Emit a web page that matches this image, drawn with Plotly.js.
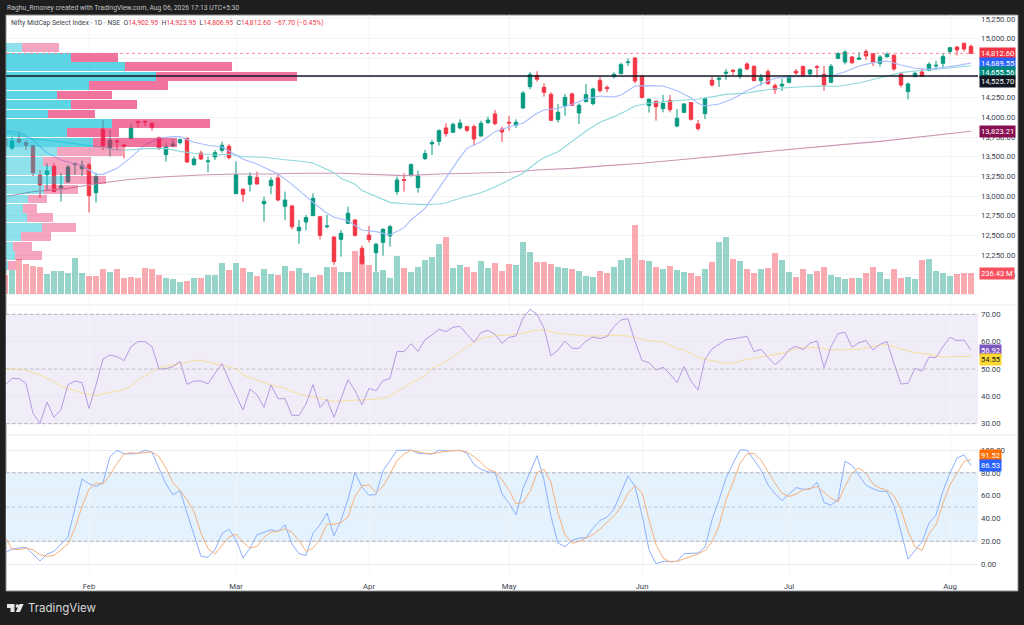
<!DOCTYPE html>
<html>
<head>
<meta charset="utf-8">
<script src="https://cdn.plot.ly/plotly-3.0.1.min.js"></script>
<style>html,body{margin:0;padding:0;background:#1e1e1e;overflow:hidden}</style>
</head>
<body>
<div id="plot" style="width:1024px;height:625px"></div>
<script>
// daily OHLC, first bar is partly cut off by the left edge
var open_p = [13734,13611,13721,13678,13640,13263,13272,13378,13103,13179,13399,13348,13395,13043,13848,13611,13700,13649,13733,13949,
 13949,13924,13742,13526,13640,13678,13733,13399,13547,13437,13496,13581,13632,13030,13086,13149,13234,12903,13132,13230,
 12870,12874,12560,12670,12751,12738,12611,12480,12450,12654,12696,12336,12505,12281,12412,12493,13056,13208,13268,13107,
 13475,13662,13695,13865,13810,13865,13882,13882,13763,13933,14043,13852,13937,13899,14119,14390,14534,14381,14292,13971,
 14144,14297,14055,14199,14174,14470,14381,14521,14555,14695,14754,14517,14149,14204,14110,14216,13890,14064,14187,13916,
 14047,14470,14483,14559,14597,14521,14678,14648,14466,14580,14403,14398,14445,14585,14648,14551,14644,14547,14445,14750,
 14703,14767,14737,14835,14809,14686,14771,14788,14551,14326,14517,14576,14597,14652,14686,14835,14894,14941,14902.95];
var high_p = [13755,13746,13818,13704,13650,13331,13416,13416,13289,13395,13429,13450,13416,13297,13967,13840,13721,13657,13916,13953,
 13958,13933,13755,13670,13721,13733,13742,13501,13577,13501,13585,13691,13662,13441,13098,13301,13310,12992,13238,13289,
 13056,12887,12696,12759,13035,12747,12759,12482,12569,12865,12704,12370,12620,12408,12590,12632,13246,13289,13416,13323,
 13585,13712,13848,13924,13933,13975,13890,13911,13958,14009,14093,13882,14021,13975,14335,14576,14585,14432,14318,14170,
 14297,14314,14178,14424,14377,14517,14407,14572,14695,14750,14763,14542,14242,14212,14284,14284,14106,14178,14195,13966,
 14254,14517,14508,14614,14614,14631,14699,14661,14551,14614,14432,14492,14538,14614,14653,14610,14665,14653,14678,14826,
 14851,14780,14826,14864,14813,14792,14826,14801,14568,14441,14580,14623,14699,14720,14813,14894,14898,14945,14923.95];
var low_p = [13607,13585,13670,13585,13255,12975,13077,13050,12929,13170,13268,13255,12793,12920,13585,13501,13585,13479,13721,13873,
 13890,13831,13585,13437,13619,13657,13424,13386,13458,13302,13458,13551,13467,13026,12925,13056,13149,12675,13022,12933,
 12692,12577,12395,12565,12747,12450,12590,12124,12230,12645,12484,12124,12408,12039,12243,12357,13014,13056,13246,13043,
 13458,13522,13640,13755,13805,13848,13814,13640,13755,13916,13899,13687,13831,13865,14106,14356,14453,14263,13954,13933,
 14021,14144,13916,14191,14153,14314,14318,14492,14547,14652,14432,14237,14060,13958,14064,14064,13873,14051,13958,13831,
 13979,14390,14386,14475,14538,14487,14602,14458,14403,14411,14297,14335,14432,14538,14517,14517,14508,14335,14432,14737,
 14674,14674,14729,14729,14652,14644,14758,14593,14381,14229,14517,14521,14585,14602,14636,14805,14784,14835,14806.95];
var close_p = [13640,13700,13687,13645,13297,13141,13318,13056,13128,13369,13412,13390,13005,13247,13640,13712,13691,13636,13861,13937,
 13941,13873,13615,13623,13662,13717,13433,13471,13471,13446,13551,13645,13488,13272,13022,13251,13153,12933,13200,12950,
 12950,12611,12603,12726,12971,12501,12619,12167,12526,12781,12501,12145,12446,12387,12577,12611,13204,13200,13399,13255,
 13539,13678,13831,13793,13911,13928,13835,13725,13924,13966,13920,13814,13928,13937,14309,14542,14483,14318,13962,14064,
 14254,14153,14153,14288,14360,14339,14364,14547,14669,14703,14462,14254,14229,14136,14178,14098,13988,14170,13975,13856,
 14237,14411,14496,14572,14585,14610,14614,14466,14504,14428,14352,14420,14525,14564,14521,14602,14636,14411,14648,14809,
 14830,14695,14754,14780,14699,14767,14801,14614,14411,14424,14559,14521,14674,14661,14771,14885,14856,14868,14812.60];

// volume in millions, vol_up 1 = green bar, 0 = red bar
var volume_m = [214,274,398,338,319,304,229,266,266,236,413,244,210,210,285,255,281,180,191,188,
 300,281,218,180,173,139,154,184,180,221,221,353,274,349,293,248,206,285,229,218,
 319,263,296,236,195,214,311,304,248,251,488,432,330,251,270,180,428,293,255,311,
 387,424,567,642,293,330,304,248,372,296,349,263,342,330,585,473,364,364,342,311,
 300,285,259,210,195,266,244,308,387,413,781,387,375,308,285,319,278,255,236,210,
 285,360,593,649,398,375,285,236,281,300,465,387,255,191,285,229,263,304,221,199,
 176,188,188,236,304,251,173,285,180,195,173,387,398,266,236,206,225,244,236.43];
var vol_up = [0,1,0,0,0,0,1,1,1,1,1,1,0,0,0,1,0,0,0,0,
 0,0,0,1,1,1,0,1,0,1,1,1,0,1,0,1,0,1,1,0,
 1,0,1,1,1,0,1,0,1,1,0,0,0,1,1,1,1,0,1,1,
 1,1,1,0,1,1,0,0,1,1,0,0,0,1,1,1,0,0,0,1,
 1,0,1,1,1,0,0,1,1,1,0,0,1,0,1,0,1,1,0,0,
 1,0,1,1,0,1,0,0,1,0,0,1,1,0,0,1,0,0,1,1,
 1,0,1,0,0,1,1,0,0,1,1,0,1,1,1,1,0,0,0];

// moving averages, read at selected bars
var ma_fast_x = [-1,1,3,5,7,9,10,11,12,13,15,17,19,21,23,24,26,28,30,31,33,35,37,38,40,41,43,45,46,47,48,50,52,54,56,57,59,60,62,64,65,67,69,71,73,75,76,78,80,82,84,86,87,89,91,93,95,96,97,98,99,101,103,105,107,109,111,113,115,117,119,121,123,125,127,129,131,133,135,137];
var ma_fast = [13827,13810,13712,13551,13458,13407,13386,13331,13276,13276,13352,13492,13649,13733,13755,13755,13683,13645,13623,13573,13467,13407,13318,13280,13149,13069,12920,12781,12730,12709,12683,12569,12548,12505,12599,12696,12844,12971,13238,13492,13606,13691,13818,13877,13924,14051,14093,14115,14165,14233,14271,14259,14284,14398,14403,14398,14339,14292,14250,14178,14144,14170,14237,14339,14424,14496,14513,14525,14525,14521,14580,14652,14695,14716,14665,14623,14610,14631,14657,14689.55];
var ma_mid_x = [-1,1,3,5,8,11,13,15,17,19,22,24,26,29,31,33,36,39,41,43,46,47,49,50,52,54,56,59,61,62,64,67,69,73,75,76,78,80,82,84,86,88,89,91,93,95,96,98,100,102,105,107,110,112,115,118,121,124,127,129,132,137];
var ma_mid = [13814,13776,13729,13708,13678,13645,13619,13585,13585,13602,13606,13568,13543,13522,13530,13501,13492,13462,13446,13420,13297,13225,13149,13069,12992,12920,12903,12891,12899,12916,12971,13043,13115,13289,13429,13488,13564,13700,13827,13937,14009,14093,14144,14178,14199,14212,14221,14229,14259,14292,14309,14339,14373,14381,14398,14394,14436,14504,14568,14589,14610,14655.56];
var ma_slow_x = [-1,3,8,13,17,22,27,32,37,41,47,52,56,61,66,71,75,80,85,90,95,100,105,110,114,119,124,129,133,137];
var ma_slow = [12992,13056,13098,13170,13213,13246,13268,13280,13280,13289,13289,13268,13259,13280,13289,13302,13331,13352,13386,13416,13458,13501,13543,13585,13619,13657,13695,13746,13784,13823.21];

// volume profile rows, top row first
var vp_price = [14883,14763,14643,14523,14403,14283,14163,14043,13923,13803,13683,13563,13443,13323,13203,13083,12963,12843,12723,12603,12483,12363,12243,12123];
var vp_up =   [48,194,358,451,248,154,194,127,318,182,262,152,110,138,174,113,66,51,64,109,45,21,27,5];
var vp_down = [112,142,321,421,237,165,199,141,294,156,252,198,144,105,127,103,56,42,78,102,89,56,82,25];
var vp_in_area = [0,1,1,1,1,1,1,1,1,1,1,0,0,0,0,0,0,0,0,0,0,0,0,0];

// RSI and its moving average
var rsi = [44.15,46.59,46.46,44.76,33.78,30.12,37.93,32.32,35.24,44.27,45.61,45.0,35.61,44.15,53.66,55.12,54.51,53.05,58.17,60.0,
 60.0,58.17,50.0,50.12,50.85,52.8,44.39,45.61,45.61,44.63,48.41,51.95,45.98,40.49,35.0,42.68,40.49,35.98,44.15,39.15,
 39.15,33.05,33.05,37.2,44.27,35.98,38.9,32.32,39.27,46.1,42.07,36.95,42.93,42.07,45.73,46.59,56.46,56.34,59.27,56.46,
 60.73,62.44,64.51,63.66,65.24,65.61,62.68,59.76,63.29,64.15,62.68,59.39,61.59,62.07,68.54,71.83,70.0,64.88,54.76,56.95,
 60.24,57.56,57.56,60.24,61.71,61.1,61.83,65.49,67.93,68.41,60.0,53.05,52.32,49.63,50.61,48.17,45.0,50.85,45.61,42.32,
 53.54,57.32,59.02,60.73,60.98,61.59,61.95,56.34,57.2,54.27,51.59,53.66,57.07,58.29,57.07,59.39,60.24,50.49,58.17,62.93,
 63.41,57.93,59.63,60.37,56.95,59.02,60.0,52.07,44.51,44.76,50.24,49.15,54.39,54.15,58.17,61.59,60.37,60.61,56.92];
var rsi_ma_x = [-1,1,2,4,5,6,7,9,10,11,12,13,15,16,17,18,19,20,21,22,24,25,26,27,28,30,32,33,35,37,38,39,41,43,44,45,46,47,48,50,52,53,54,55,56,57,59,60,62,64,65,67,69,71,73,75,76,78,80,82,84,86,88,89,91,93,95,96,97,98,99,100,101,102,103,105,107,109,111,112,113,115,117,119,121,123,125,127,129,131,133,135,137];
var rsi_ma = [50.24,49.76,49.63,47.8,46.59,45.37,43.78,41.95,41.22,40.73,40.24,40.85,41.83,42.56,43.78,45.98,47.44,49.02,50.24,50.98,51.95,52.44,53.05,53.17,52.56,51.59,50.12,47.8,45.98,44.15,43.54,42.93,40.85,39.88,39.15,38.66,38.05,38.29,38.54,38.66,38.9,39.27,40.12,41.71,43.29,44.88,47.44,50.24,52.68,56.34,58.17,61.22,62.2,62.44,63.05,64.27,64.27,63.05,62.56,62.07,62.07,62.32,62.07,61.59,60.37,59.88,57.44,56.95,55.73,54.27,53.54,53.05,52.44,52.07,52.2,53.54,54.39,55.24,56.34,57.44,57.8,57.8,56.95,57.07,57.2,58.29,59.02,57.32,55.98,55.37,54.27,54.63,54.55];

// stochastic %K and %D
var stoch_k = [9.62,13.12,13.99,14.58,8.75,2.62,8.75,11.08,17.49,23.62,48.98,74.64,70.26,67.93,71.43,94.17,99.71,96.79,96.5,97.08,
 100,97.96,83.97,70.26,60.64,64.43,44.61,25.66,6.71,5.83,12.54,26.53,30.61,21.28,5.25,13.99,25.66,27.7,30.03,28.57,
 34.4,17.49,9.04,7.58,27.11,34.4,44.61,24.78,38.19,56.85,80.17,67.35,60.35,60.93,81.92,90.67,99.71,99.71,100,97.08,
 96.5,96.5,100,99.13,99.42,99.71,97.08,87.17,83.09,80.76,80.47,61.52,53.35,43.15,66.18,80.47,95.04,73.76,41.69,18.37,
 15.16,20.7,22.74,23.03,31.49,38.19,41.11,48.1,62.1,77.26,67.93,43.15,12.54,0.29,2.33,2.33,2.33,9.04,9.62,9.62,
 14.87,38.78,56.27,75.22,88.34,100,100,90.67,82.51,69.39,61.52,55.69,61.22,67.06,65.6,65.6,71.72,53.94,51.6,56.27,
 90.09,86.59,77.55,69.1,65.89,63.85,63.56,51.02,28.57,4.37,11.95,19.24,35.86,42.86,64.14,79.59,93.0,95.63,86.53];
var stoch_d = [23.62,13.12,12.54,13.99,12.54,8.16,6.71,7.58,12.54,17.49,31.49,50.44,65.6,70.85,70.26,78.13,88.34,96.5,97.67,97.08,
 97.96,98.25,94.17,83.97,71.43,64.43,56.27,46.06,27.11,13.41,8.75,16.03,23.62,26.24,19.24,13.99,15.45,23.32,27.99,28.57,
 30.9,27.7,20.7,11.08,13.99,21.87,34.99,34.69,36.44,41.11,59.18,68.51,69.39,62.68,67.93,79.01,90.67,96.5,99.71,98.54,
 97.08,96.79,97.96,98.83,99.42,99.42,98.25,94.17,88.92,83.09,81.05,73.76,65.01,52.77,53.94,63.56,80.17,83.09,71.43,44.61,
 25.66,18.37,19.83,22.45,25.66,30.61,36.44,42.27,49.85,62.1,68.51,62.68,38.78,16.91,5.25,1.75,2.33,4.66,6.71,8.75,
 11.95,19.24,33.53,56.27,71.43,88.34,96.5,97.08,91.25,81.05,70.85,62.1,59.18,61.22,65.01,66.18,67.93,62.97,57.73,54.52,
 67.93,79.59,84.26,79.59,70.26,66.47,64.72,59.77,48.1,28.57,14.87,11.95,26.53,34.4,53.35,69.39,80.17,89.8,91.52];

var month_bars = [11,32,51,71,90,111,134];
var month_names = ['Feb','Mar','Apr','May','Jun','Jul','Aug'];
var price_ticks = [11750,12000,12250,12500,12750,13000,13250,13500,13750,14000,14250,14500,14750,15000,15250];

var last_price = 14812.60, fast_last = 14689.55, mid_last = 14655.56, level_line = 14525.70, slow_last = 13823.21;
var vol_last = 236.43, rsi_last = 56.92, rsi_ma_last = 54.55, d_last = 91.52, k_last = 86.53;

var bars = close_p.map(function (c, i) { return i - 1 });

// pixel helpers for the frame around the chart
var PL = 6, PR = 978, PT = 15, PB = 574;
function px(x) { return (x - PL) / (PR - PL) }
function py(y) { return (PB - y) / (PB - PT) }
var FONT = 'Roboto, sans-serif';

var traces = [
   {
      type: 'bar', x: bars, y: volume_m, xaxis: 'x', yaxis: 'y', width: 0.86, hoverinfo: 'skip',
      marker: {color: vol_up.map(function (u) { return u ? 'rgba(8,153,129,0.42)' : 'rgba(242,54,69,0.42)' }), line: {width: 0}},
   },
   {
      type: 'candlestick', x: bars, open: open_p, high: high_p, low: low_p, close: close_p, xaxis: 'x', yaxis: 'y2', hoverinfo: 'skip',
      increasing: {line: {color: '#089981', width: 1}, fillcolor: '#089981'},
      decreasing: {line: {color: '#f23645', width: 1}, fillcolor: '#f23645'},
   },
   {type: 'scatter', mode: 'lines', x: ma_slow_x, y: ma_slow, xaxis: 'x', yaxis: 'y2', line: {color: '#cc96b5', width: 1.1}, hoverinfo: 'skip'},
   {type: 'scatter', mode: 'lines', x: ma_mid_x, y: ma_mid, xaxis: 'x', yaxis: 'y2', line: {color: '#8fd8da', width: 1.1}, hoverinfo: 'skip'},
   {type: 'scatter', mode: 'lines', x: ma_fast_x, y: ma_fast, xaxis: 'x', yaxis: 'y2', line: {color: '#a8bdff', width: 1.1}, hoverinfo: 'skip'},
   {
      type: 'bar', orientation: 'h', y: vp_price, x: vp_up, xaxis: 'x3', yaxis: 'y2', width: 112, hoverinfo: 'skip',
      marker: {color: vp_in_area.map(function (a) { return a ? 'rgba(0,188,212,0.64)' : 'rgba(0,188,212,0.44)' }), line: {width: 0}},
   },
   {
      type: 'bar', orientation: 'h', y: vp_price, x: vp_down, xaxis: 'x3', yaxis: 'y2', width: 112, hoverinfo: 'skip',
      marker: {color: vp_in_area.map(function (a) { return a ? 'rgba(233,30,99,0.62)' : 'rgba(233,30,99,0.4)' }), line: {width: 0}},
   },
   {type: 'scatter', mode: 'lines', x: rsi_ma_x, y: rsi_ma, xaxis: 'x', yaxis: 'y3', line: {color: '#f8e09a', width: 1}, hoverinfo: 'skip'},
   {type: 'scatter', mode: 'lines', x: bars, y: rsi, xaxis: 'x', yaxis: 'y3', line: {color: '#b49ce0', width: 1}, hoverinfo: 'skip'},
   {type: 'scatter', mode: 'lines', x: bars, y: stoch_k, xaxis: 'x', yaxis: 'y4', line: {color: '#8db0ff', width: 1}, hoverinfo: 'skip'},
   {type: 'scatter', mode: 'lines', x: bars, y: stoch_d, xaxis: 'x', yaxis: 'y4', line: {color: '#f7b07c', width: 1}, hoverinfo: 'skip'},
];

function hline(yaxis, value, color, dash, width) {
   return {type: 'line', xref: 'paper', x0: 0, x1: 1, yref: yaxis, y0: value, y1: value, layer: 'above', line: {color: color, dash: dash, width: width}}
}
function band(yaxis, lo, hi, color) {
   return {type: 'rect', xref: 'paper', x0: 0, x1: 1, yref: yaxis, y0: lo, y1: hi, layer: 'below', fillcolor: color, line: {width: 0}}
}
function frame_line(y) {
   return {type: 'line', xref: 'paper', yref: 'paper', x0: px(6), x1: px(1018), y0: py(y), y1: py(y), layer: 'below', line: {color: '#e8eaf0', width: 1}}
}
var shapes = [
   {type: 'rect', xref: 'paper', yref: 'paper', x0: px(6), x1: px(1018), y0: py(591), y1: py(15), layer: 'below', fillcolor: '#ffffff', line: {color: '#8c8c8c', width: 1}},
   frame_line(305), frame_line(435),
   band('y3', 30, 70, '#f0ecf8'),
   band('y4', 20, 80, '#e3f2fd'),
   hline('y2', last_price, '#f77c88', 'dot', 0.9),
   hline('y2', level_line, '#131722', 'solid', 1.5),
   hline('y3', 70, '#a4a4aa', 'dash', 0.8), hline('y3', 50, '#bcbac0', 'dash', 0.8), hline('y3', 30, '#a4a4aa', 'dash', 0.8),
   hline('y4', 80, '#a4a4aa', 'dash', 0.8), hline('y4', 50, '#bcbec4', 'dash', 0.8), hline('y4', 20, '#a4a4aa', 'dash', 0.8),
   // logo
   {type: 'path', xref: 'paper', yref: 'paper', layer: 'above', fillcolor: '#e6e6e6', line: {width: 0},
    path: 'M' + px(7) + ',' + py(604) + ' L' + px(14.5) + ',' + py(604) + ' L' + px(14.5) + ',' + py(612) + ' L' + px(10.5) + ',' + py(612) + ' L' + px(10.5) + ',' + py(608) + ' L' + px(7) + ',' + py(608) + ' Z'},
   {type: 'circle', xref: 'paper', yref: 'paper', layer: 'above', fillcolor: '#e6e6e6', line: {width: 0}, x0: px(15.5), x1: px(19), y0: py(607.7), y1: py(604.2)},
   {type: 'path', xref: 'paper', yref: 'paper', layer: 'above', fillcolor: '#e6e6e6', line: {width: 0},
    path: 'M' + px(19.5) + ',' + py(604) + ' L' + px(23.6) + ',' + py(604) + ' L' + px(20) + ',' + py(612) + ' L' + px(15.8) + ',' + py(612) + ' Z'},
];
shapes.forEach(function (s) { if (s.line.dash === 'dash') s.line.dash = '3.5px,2.5px' });

function price_tag(yaxis, value, text, bg, fg, shift) {
   return {
      xref: 'paper', x: 1, xanchor: 'left', xshift: 1, yref: yaxis, y: value, yanchor: 'middle', yshift: shift || 0,
      text: text, showarrow: false, bgcolor: bg, borderpad: 1, font: {family: FONT, size: 7.6, color: fg}
   }
}
function fmt(v) { return v.toLocaleString('en-US', {minimumFractionDigits: 2, maximumFractionDigits: 2}) }

var red = '#f23645';
var legend_text = 'Nifty MidCap Select Index · 1D · NSE &nbsp;O<span style="color:' + red + '">14,902.95</span> &nbsp;H<span style="color:' + red + '">14,923.95</span> &nbsp;L<span style="color:' + red + '">14,806.95</span> &nbsp;C<span style="color:' + red + '">14,812.60</span> &nbsp;<span style="color:' + red + '">−67.70 (−0.45%)</span>';

var annotations = [
   {xref: 'paper', yref: 'paper', x: px(4.5), y: py(8), xanchor: 'left', yanchor: 'middle', showarrow: false,
    text: 'Raghu_Rmoney created with TradingView.com, Aug 06, 2026 17:13 UTC+5:30', font: {family: FONT, size: 6.8, color: '#c4c4c4'}},
   {xref: 'paper', yref: 'paper', x: px(8.5), y: py(23), xanchor: 'left', yanchor: 'middle', showarrow: false,
    text: legend_text, font: {family: FONT, size: 6.8, color: '#3d4250'}},
   {xref: 'paper', yref: 'paper', x: px(25.5), y: py(608), xanchor: 'left', yanchor: 'middle', showarrow: false,
    text: 'TradingView', font: {family: 'Inter, sans-serif', size: 11.5, color: '#d8d8d8'}},
   price_tag('y2', last_price, fmt(last_price), '#f23645', '#ffffff'),
   price_tag('y2', fast_last, fmt(fast_last), '#2962ff', '#ffffff'),
   price_tag('y2', mid_last, fmt(mid_last), '#00897b', '#ffffff', -6.7),
   price_tag('y2', level_line, fmt(level_line), '#131722', '#ffffff', -6),
   price_tag('y2', slow_last, fmt(slow_last), '#880e4f', '#ffffff'),
   price_tag('y', vol_last, vol_last.toFixed(2) + '\u2009M', '#f7525f', '#ffffff'),
   price_tag('y3', rsi_last, rsi_last.toFixed(2), '#7e57c2', '#ffffff'),
   price_tag('y3', rsi_ma_last, rsi_ma_last.toFixed(2), '#fdd835', '#131722', -2.7),
   price_tag('y4', d_last, d_last.toFixed(2), '#ff6d00', '#ffffff', 3.7),
   price_tag('y4', k_last, k_last.toFixed(2), '#2962ff', '#ffffff'),
];

var tick_font = {family: FONT, size: 7.8, color: '#3d4250'};
var GRID = '#f3f4f6';

var layout = {
   width: 1024, height: 625,
   margin: {l: PL, r: 1024 - PR, t: PT, b: 625 - PB, pad: 0},
   paper_bgcolor: '#1e1e1e', plot_bgcolor: 'rgba(0,0,0,0)',
   showlegend: false, barmode: 'stack', hovermode: false,
   xaxis: {
      anchor: 'y4', range: [-0.857, 138], tickmode: 'array', tickvals: month_bars, ticktext: month_names,
      tickfont: {family: FONT, size: 7.8, color: '#3d4250'}, ticks: '', showgrid: true, gridcolor: GRID, zeroline: false, showline: false,
      rangeslider: {visible: false}, ticklabelstandoff: 6,
   },
   xaxis3: {overlaying: 'x', anchor: 'y2', range: [0, 2916], visible: false, fixedrange: true},
   yaxis: {domain: [py(305), py(15)], anchor: 'x', range: [-120, 3145], visible: false},
   yaxis2: {
      overlaying: 'y', anchor: 'x', side: 'right', range: [11616, 15300], tickmode: 'array', tickvals: price_ticks,
      // the lowest grid line has no label in the reference
      ticktext: price_ticks.map(function (t, i) { return i === 0 ? '' : fmt(t) }),
      tickfont: tick_font, showgrid: true, gridcolor: GRID, zeroline: false, ticks: '', ticklabelstandoff: 2,
   },
   yaxis3: {
      domain: [py(435), py(306)], anchor: 'x', side: 'right', range: [25.87, 73.03], tickmode: 'array', tickvals: [30, 40, 50, 60, 70],
      tickformat: '.2f', tickfont: tick_font, showgrid: true, gridcolor: '#e9e7ef', zeroline: false, ticks: '', ticklabelstandoff: 2,
   },
   yaxis4: {
      domain: [py(574), py(436)], anchor: 'x', side: 'right', range: [-8.77, 112.28], tickmode: 'array', tickvals: [0, 20, 40, 60, 80, 100],
      tickformat: '.2f', tickfont: tick_font, showgrid: true, gridcolor: '#eaeef3', zeroline: false, ticks: '', ticklabelstandoff: 2,
   },
   shapes: shapes,
   annotations: annotations,
};

Plotly.newPlot('plot', traces, layout, {displayModeBar: false, staticPlot: true});
</script>
</body>
</html>
